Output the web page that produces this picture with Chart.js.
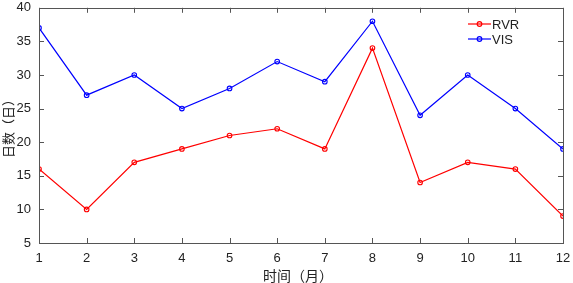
<!DOCTYPE html>
<html><head><meta charset="utf-8">
<script src="https://cdn.jsdelivr.net/npm/chart.js@4"></script>
<style>html,body{margin:0;padding:0;background:#fff}#wrap{width:573px;height:283px}</style>
</head><body><div id="wrap"><canvas id="c" width="573" height="283"></canvas></div>
<script>
const months = [1,2,3,4,5,6,7,8,9,10,11,12];
const rvr = [16,10,17,19,21,22,19,34,14,17,16,9];
const vis = [37,27,30,25,28,32,29,38,24,30,25,19];
const yTicks = [5,10,15,20,25,30,35,40];
const xTitle = '时间（月）';
const yTitle = '日数（日）';
const seriesNames = ['RVR','VIS'];

const axisColor = '#555555';

const boxPlugin = {
  id: 'box',
  afterDatasetsDraw(chart) {
    const {ctx, chartArea: a, scales: {x, y}} = chart;
    ctx.save();
    ctx.strokeStyle = axisColor;
    ctx.lineWidth = 1;
    ctx.strokeRect(Math.round(a.left)+0.5, Math.round(a.top)+0.5, Math.round(a.right-a.left), Math.round(a.bottom-a.top));
    const L = 5;
    ctx.beginPath();
    months.forEach(m => {
      const px = Math.round(x.getPixelForValue(m)) + 0.5;
      ctx.moveTo(px, a.bottom); ctx.lineTo(px, a.bottom - L);
      ctx.moveTo(px, a.top); ctx.lineTo(px, a.top + L);
    });
    yTicks.forEach(v => {
      const py = Math.round(y.getPixelForValue(v)) + 0.5;
      ctx.moveTo(a.left, py); ctx.lineTo(a.left + L, py);
      ctx.moveTo(a.right, py); ctx.lineTo(a.right - L, py);
    });
    ctx.stroke();
    // titles
    ctx.fillStyle = '#222';
    ctx.font = '14px "Noto Sans CJK SC", sans-serif';
    ctx.textAlign = 'center';
    ctx.textBaseline = 'middle';
    ctx.fillText(xTitle, 298, 276);
    ctx.save();
    ctx.translate(8, (a.top + a.bottom)/2);
    ctx.rotate(-Math.PI/2);
    ctx.font = '13px "Noto Sans CJK SC", sans-serif';
    ctx.fillText(yTitle, 0, 0);
    ctx.restore();
    // legend
    const colors = ['#ff0000', '#0000ff'];
    const ys = [24, 39];
    ctx.font = '13px "Liberation Sans", Arial, sans-serif';
    ctx.textAlign = 'left';
    seriesNames.forEach((n, i) => {
      ctx.strokeStyle = colors[i];
      ctx.lineWidth = 1.2;
      ctx.beginPath(); ctx.moveTo(468, ys[i]); ctx.lineTo(491, ys[i]); ctx.stroke();
      ctx.beginPath(); ctx.arc(479.5, ys[i], 2.3, 0, Math.PI*2); ctx.stroke();
      ctx.fillStyle = '#222';
      ctx.fillText(n, 492, ys[i] + 1);
    });
    ctx.restore();
  }
};

const mk = (label, data, color) => ({
  label, data: months.map((m, i) => ({x: m, y: data[i]})),
  borderColor: color, backgroundColor: 'rgba(0,0,0,0)', borderWidth: 1.2,
  pointRadius: 2.3, pointBorderWidth: 1.1, pointBorderColor: color,
  pointBackgroundColor: 'rgba(0,0,0,0)', tension: 0
});

new Chart(document.getElementById('c'), {
  type: 'line',
  data: { datasets: [mk(seriesNames[0], rvr, '#ff0000'), mk(seriesNames[1], vis, '#0000ff')] },
  options: {
    responsive: false, animation: false, devicePixelRatio: 1,
    layout: { padding: { left: 0, top: 7, right: 10, bottom: 0 } },
    plugins: { legend: { display: false }, tooltip: { enabled: false } },
    scales: {
      x: {
        type: 'linear', min: 1, max: 12,
        afterFit(s) { s.height = 40; },
        afterBuildTicks(s) { s.ticks = months.map(v => ({value: v})); },
        grid: { display: false }, border: { display: false },
        ticks: { color: '#222', font: { family: '"Liberation Sans", Arial, sans-serif', size: 13 }, padding: 0, maxRotation: 0 }
      },
      y: {
        min: 5, max: 40,
        afterFit(s) { s.width = 39; },
        afterBuildTicks(s) { s.ticks = yTicks.map(v => ({value: v})); },
        grid: { display: false }, border: { display: false },
        ticks: { color: '#222', font: { family: '"Liberation Sans", Arial, sans-serif', size: 13 }, padding: 0 }
      }
    }
  },
  plugins: [boxPlugin]
});
</script></body></html>
